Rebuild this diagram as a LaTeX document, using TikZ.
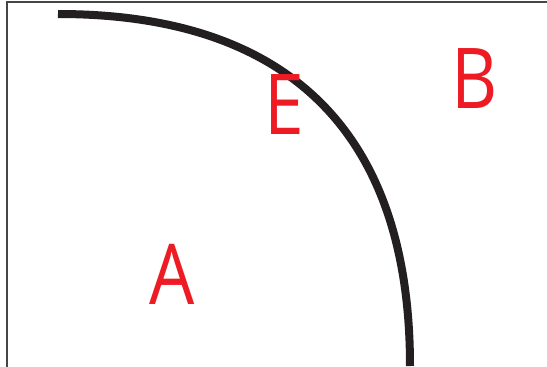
\documentclass[tikz,border=0pt]{standalone}
\usepackage{fontspec}
\setmainfont{Open Sans}
\usepackage{tikz}
\usetikzlibrary{positioning}
\definecolor{zonered}{RGB}{237,28,36}
\definecolor{edgeink}{RGB}{35,31,32}
\definecolor{frameink}{RGB}{70,70,70}

\begin{document}
\begin{tikzpicture}[x=1pt,y=-1pt,
    frame/.style={draw=frameink,line width=1.2pt},
    edge/.style={draw=edgeink,line width=8pt,line cap=butt},
    zone/.style={text=zonered,inner sep=0pt,font=\fontsize{84}{84}\selectfont,xscale=0.85,transform shape}]
   \useasboundingbox (0,0) rectangle (547,367);
   \draw[frame] (547,2)--(7,2)--(7,367);
   \coordinate (S) at (58,14);
   \coordinate (T) at (410,366);
   \draw[edge] (S) .. controls (290,14) and (410,134) .. (T);
   \node[zone] (A) at (172,274){A};
   \node[zone] (E) at (284,105){E};
   \node[zone] (B) at (475,79){B};
  \end{tikzpicture}
\end{document}
